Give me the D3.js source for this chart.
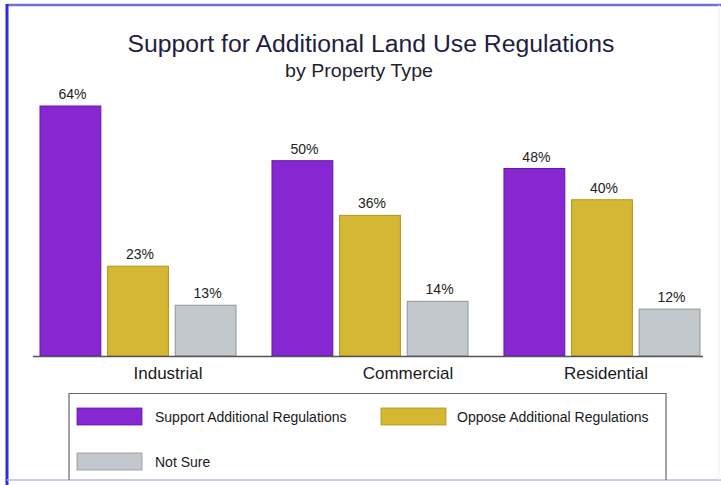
<!DOCTYPE html>
<html lang="en">
<head>
<meta charset="UTF-8">
<title>Support for Additional Land Use Regulations</title>
<script src="https://d3js.org/d3.v7.min.js"></script>
<style>
  body { margin: 0; background: #fff; }
  text { font-family: "Liberation Sans", Arial, Helvetica, sans-serif; }
</style>
</head>
<body>
<svg id="chart" width="721" height="485"></svg>
<script>
// data
const categories = ["Industrial", "Commercial", "Residential"];
const seriesNames = ["Support Additional Regulations", "Oppose Additional Regulations", "Not Sure"];
const support = [64, 50, 48];
const oppose = [23, 36, 40];
const notSure = [13, 14, 12];
const seriesValues = [support, oppose, notSure];

const fills = ["#8627d2", "#d4b733", "#c3c8cd"];
const strokes = ["#6418a8", "#b39420", "#8e959c"];
// the category labels are not centred under their groups in the original
const labelShift = [30, 38, 4];

const svg = d3.select("#chart");

// frame of the scanned page
svg.append("line").attr("x1", 7).attr("x2", 721).attr("y1", 5).attr("y2", 5)
    .attr("stroke", "#7272d2").attr("stroke-width", 2.5);
svg.append("line").attr("x1", 7).attr("x2", 7).attr("y1", 4).attr("y2", 485)
    .attr("stroke", "#2c2ce2").attr("stroke-width", 3);
svg.append("line").attr("x1", 7).attr("x2", 721).attr("y1", 480).attr("y2", 480)
    .attr("stroke", "#b4bbea").attr("stroke-width", 1.5);
svg.append("line").attr("x1", 719).attr("x2", 719).attr("y1", 5).attr("y2", 480)
    .attr("stroke", "#eeeef6").attr("stroke-width", 1);

// titles
svg.append("text")
    .attr("x", 371).attr("y", 52)
    .attr("text-anchor", "middle")
    .attr("font-size", 23)
    .attr("fill", "#1e1e42")
    .attr("textLength", 487)
    .attr("lengthAdjust", "spacingAndGlyphs")
    .text("Support for Additional Land Use Regulations");

svg.append("text")
    .attr("x", 359).attr("y", 77)
    .attr("text-anchor", "middle")
    .attr("font-size", 18)
    .attr("fill", "#1e1e2e")
    .attr("textLength", 148)
    .attr("lengthAdjust", "spacingAndGlyphs")
    .text("by Property Type");

// scales
const x0 = d3.scaleBand()
    .domain(categories)
    .range([22, 718])
    .paddingInner(0.155)
    .paddingOuter(0.0776);

const x1 = d3.scaleBand()
    .domain(d3.range(seriesNames.length))
    .range([0, x0.bandwidth()])
    .paddingInner(0.1);

const y = d3.scaleLinear()
    .domain([0, 64])
    .range([356, 106]);

// bars
const groups = svg.selectAll("g.group")
    .data(categories)
    .join("g")
    .attr("class", "group")
    .attr("transform", d => `translate(${x0(d)},0)`);

groups.selectAll("rect")
    .data((d, i) => seriesValues.map((vals, s) => ({ s: s, v: vals[i] })))
    .join("rect")
    .attr("x", d => x1(d.s))
    .attr("y", d => y(d.v))
    .attr("width", x1.bandwidth())
    .attr("height", d => y(0) - y(d.v))
    .attr("fill", d => fills[d.s])
    .attr("stroke", d => strokes[d.s])
    .attr("stroke-width", 1);

groups.selectAll("text.value")
    .data((d, i) => seriesValues.map((vals, s) => ({ s: s, v: vals[i] })))
    .join("text")
    .attr("class", "value")
    .attr("x", d => x1(d.s) + x1.bandwidth() / 2 + 2)
    .attr("y", d => y(d.v) - 7)
    .attr("text-anchor", "middle")
    .attr("font-size", 14)
    .attr("fill", "#222")
    .text(d => d.v + "%");

// baseline axis
const axis = svg.append("g")
    .attr("transform", `translate(0,${y(0)})`)
    .call(d3.axisBottom(x0).tickSize(0).tickFormat(""));
axis.select(".domain")
    .attr("d", "M33,0.5H703")
    .attr("stroke", "#555")
    .attr("stroke-width", 1.5);

svg.selectAll("text.cat")
    .data(categories)
    .join("text")
    .attr("class", "cat")
    .attr("x", (d, i) => x0(d) + x0.bandwidth() / 2 + labelShift[i])
    .attr("y", 379)
    .attr("text-anchor", "middle")
    .attr("font-size", 17)
    .attr("fill", "#1a1a1a")
    .text(d => d);

// legend
const legend = svg.append("g");
legend.append("path")
    .attr("d", "M69,480V393.5H666V480")
    .attr("fill", "none")
    .attr("stroke", "#666")
    .attr("stroke-width", 1.2);

const legendPos = [[77, 408], [381, 408], [77, 453]];
const items = legend.selectAll("g.item")
    .data(seriesNames)
    .join("g")
    .attr("class", "item")
    .attr("transform", (d, i) => `translate(${legendPos[i][0]},${legendPos[i][1]})`);

items.append("rect")
    .attr("width", 65)
    .attr("height", 17)
    .attr("fill", (d, i) => fills[i])
    .attr("stroke", (d, i) => strokes[i])
    .attr("stroke-width", 0.8);

items.append("text")
    .attr("x", (d, i) => i === 1 ? 76 : 78)
    .attr("y", 14)
    .attr("font-size", 14)
    .attr("fill", "#1a1a1a")
    .text(d => d);
</script>
</body>
</html>
